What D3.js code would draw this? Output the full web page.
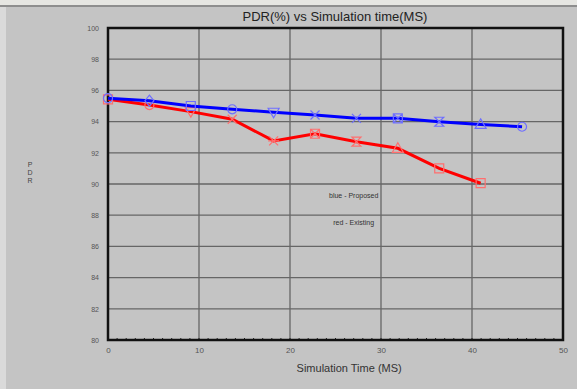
<html>
<head>
    <script src="https://d3js.org/d3.v7.min.js"></script>
    <style>
        body { margin: 0; background: #c4c4c4; }
        text { font-family: Arial, "Liberation Sans", sans-serif; }
    </style>
</head>
<body>
    <div id="chart">
        <svg width="577" height="389"></svg>
    </div>
    <script>
        // data
        var timeBlue = [0, 4.55, 9.1, 13.65, 18.2, 22.75, 27.3, 31.85, 36.4, 40.95, 45.5]
        var pdrBlue = [95.5, 95.34, 95.0, 94.79, 94.6, 94.42, 94.21, 94.21, 93.99, 93.82, 93.67]
        var timeRed = [0, 4.55, 9.1, 13.65, 18.2, 22.75, 27.3, 31.85, 36.4, 40.95]
        var pdrRed = [95.43, 95.06, 94.64, 94.15, 92.76, 93.22, 92.71, 92.29, 91.0, 90.05]
        var xTicks = [0, 10, 20, 30, 40, 50]
        var yTicks = [80, 82, 84, 86, 88, 90, 92, 94, 96, 98, 100]

        // matlab style marker per point
        var blueMarks = ["circle", "diamond", "square", "circle", "tridown", "x", "x", "xsq", "hour", "triup", "circle"]
        var redMarks = ["square", "circle", "tridown", "x", "star", "xsq", "hour", "triup", "square", "square"]

        var svg = d3.select("#chart svg")

        // window frame bits
        svg.append("rect").attr("x", 0).attr("y", 0).attr("width", 577).attr("height", 6).style("fill", "#e6e6e2")
        svg.append("rect").attr("x", 0).attr("y", 5).attr("width", 577).attr("height", 2).style("fill", "#8e8e8e")
        svg.append("rect").attr("x", 0).attr("y", 7).attr("width", 6).attr("height", 382).style("fill", "#dadada")

        var xScale = d3.scaleLinear()
            .domain([0, 50])
            .range([108, 563])

        var yScale = d3.scaleLinear()
            .domain([80, 100])
            .range([340, 28])

        // grid
        svg.append("g")
            .selectAll("line")
            .data(xTicks.slice(1, -1))
            .enter()
            .append("line")
            .attr("x1", function(d) { return xScale(d) })
            .attr("x2", function(d) { return xScale(d) })
            .attr("y1", yScale(100))
            .attr("y2", yScale(80))
            .style("stroke", "#666")
            .style("stroke-width", 1.3)

        svg.append("g")
            .selectAll("line")
            .data(yTicks.slice(1, -1))
            .enter()
            .append("line")
            .attr("x1", xScale(0))
            .attr("x2", xScale(50))
            .attr("y1", function(d) { return yScale(d) })
            .attr("y2", function(d) { return yScale(d) })
            .style("stroke", "#666")
            .style("stroke-width", 1.3)

        // axes
        var xAxis = d3.axisBottom(xScale).tickValues(xTicks).tickSize(0).tickPadding(7)
        var gx = svg.append("g")
            .attr("transform", "translate(0," + yScale(80) + ")")
            .call(xAxis)
        gx.select(".domain").remove()
        gx.selectAll("text").style("font-size", "8px").style("fill", "#555")

        var yAxis = d3.axisLeft(yScale).tickValues(yTicks).tickSize(0).tickPadding(9)
        var gy = svg.append("g")
            .attr("transform", "translate(" + xScale(0) + ",0)")
            .call(yAxis)
        gy.select(".domain").remove()
        gy.selectAll("text").style("font-size", "7px").style("fill", "#555")

        // minor ticks on bottom
        svg.append("g")
            .selectAll("line")
            .data(d3.range(1, 50))
            .enter()
            .append("line")
            .attr("x1", function(d) { return xScale(d) })
            .attr("x2", function(d) { return xScale(d) })
            .attr("y1", yScale(80) - 2)
            .attr("y2", yScale(80))
            .style("stroke", "#222")
            .style("stroke-width", 1)

        // frame
        svg.append("rect")
            .attr("x", xScale(0))
            .attr("y", yScale(100))
            .attr("width", xScale(50) - xScale(0))
            .attr("height", yScale(80) - yScale(100))
            .style("fill", "none")
            .style("stroke", "#111")
            .style("stroke-width", 2.5)

        var line = d3.line()
            .x(function(d) { return xScale(d[0]) })
            .y(function(d) { return yScale(d[1]) })

        function markerPath(type) {
            var s = 4.5
            if (type == "circle") return d3.symbol().type(d3.symbolCircle).size(64)()
            if (type == "square") return "M-" + s + ",-" + s + "H" + s + "V" + s + "H-" + s + "Z"
            if (type == "diamond") return "M0,-5.5L4.5,0L0,5.5L-4.5,0Z"
            if (type == "triup") return "M0,-5.5L5.5,4H-5.5Z"
            if (type == "tridown") return "M0,5.5L5.5,-4H-5.5Z"
            if (type == "x") return "M-4.5,-4.5L4.5,4.5M-4.5,4.5L4.5,-4.5"
            if (type == "star") return "M-4.5,-4.5L4.5,4.5M-4.5,4.5L4.5,-4.5M-5.5,0H5.5"
            if (type == "xsq") return "M-4.5,-4.5H4.5V4.5H-4.5ZM-4.5,-4.5L4.5,4.5M-4.5,4.5L4.5,-4.5"
            if (type == "hour") return "M-4.5,-4.5H4.5L-4.5,4.5H4.5Z"
            return ""
        }

        function drawSeries(xs, ys, marks, color, markColor) {
            var pts = xs.map(function(x, i) { return [x, ys[i]] })
            svg.append("path")
                .datum(pts)
                .attr("d", line)
                .style("fill", "none")
                .style("stroke", color)
                .style("stroke-width", 3)
            svg.append("g")
                .selectAll("path")
                .data(pts)
                .enter()
                .append("path")
                .attr("transform", function(d) { return "translate(" + xScale(d[0]) + "," + yScale(d[1]) + ")" })
                .attr("d", function(d, i) { return markerPath(marks[i]) })
                .style("fill", "none")
                .style("stroke", markColor)
                .style("stroke-width", 1.2)
        }

        drawSeries(timeRed, pdrRed, redMarks, "#ff0000", "#ff6e6e")
        drawSeries(timeBlue, pdrBlue, blueMarks, "#0000ff", "#6e6eff")

        // texts
        svg.append("text")
            .attr("x", 335).attr("y", 21)
            .attr("text-anchor", "middle")
            .style("font-size", "13px").style("fill", "#222")
            .text("PDR(%) vs Simulation time(MS)")

        svg.append("text")
            .attr("x", xScale(26.5)).attr("y", 372)
            .attr("text-anchor", "middle")
            .style("font-size", "11px").style("fill", "#333")
            .text("Simulation Time (MS)")

        svg.append("g")
            .selectAll("text")
            .data(["P", "D", "R"])
            .enter()
            .append("text")
            .attr("x", 30)
            .attr("y", function(d, i) { return 167 + i * 8 })
            .attr("text-anchor", "middle")
            .style("font-size", "7px").style("fill", "#444")
            .text(function(d) { return d })

        svg.append("text")
            .attr("x", xScale(27)).attr("y", 198)
            .attr("text-anchor", "middle")
            .style("font-size", "7px").style("fill", "#333")
            .text("blue - Proposed")

        svg.append("text")
            .attr("x", xScale(27)).attr("y", 225)
            .attr("text-anchor", "middle")
            .style("font-size", "7px").style("fill", "#333")
            .text("red - Existing")
    </script>
</body>
</html>
